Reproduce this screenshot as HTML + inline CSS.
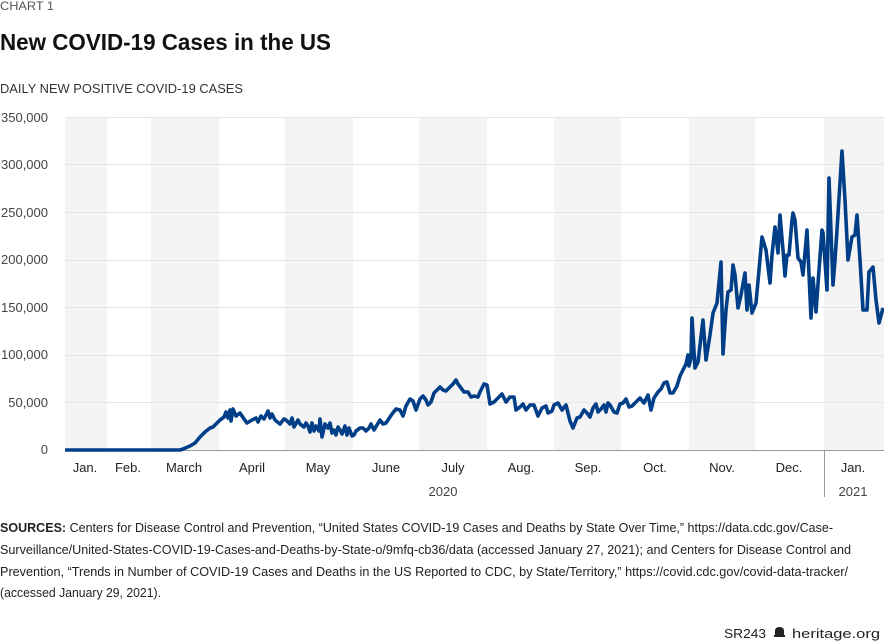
<!DOCTYPE html>
<html><head><meta charset="utf-8"><style>
html,body{margin:0;padding:0;background:#fff;width:884px;height:642px;overflow:hidden}
svg{display:block;font-family:"Liberation Sans",sans-serif}
</style></head><body>
<svg width="884" height="642" viewBox="0 0 884 642">
<text x="0" y="10" font-size="12" fill="#555" textLength="54" lengthAdjust="spacingAndGlyphs">CHART 1</text>
<text x="0" y="50" font-size="23" font-weight="bold" fill="#111" textLength="331" lengthAdjust="spacingAndGlyphs">New COVID-19 Cases in the US</text>
<text x="0" y="93" font-size="13" fill="#333" textLength="243" lengthAdjust="spacingAndGlyphs">DAILY NEW POSITIVE COVID-19 CASES</text>
<g fill="#f4f4f4">
<rect x="65" y="117" width="42" height="333"/>
<rect x="151" y="117" width="68" height="333"/>
<rect x="285" y="117" width="68" height="333"/>
<rect x="419" y="117" width="68" height="333"/>
<rect x="554" y="117" width="67" height="333"/>
<rect x="689" y="117" width="66" height="333"/>
<rect x="824" y="117" width="60" height="333"/>
</g>
<g stroke="#e6e6e6" stroke-width="1">
<line x1="65" x2="884" y1="117.5" y2="117.5"/>
<line x1="65" x2="884" y1="164.5" y2="164.5"/>
<line x1="65" x2="884" y1="212.5" y2="212.5"/>
<line x1="65" x2="884" y1="260.5" y2="260.5"/>
<line x1="65" x2="884" y1="307.5" y2="307.5"/>
<line x1="65" x2="884" y1="355.5" y2="355.5"/>
<line x1="65" x2="884" y1="402.5" y2="402.5"/>
</g>
<line x1="65" x2="884" y1="450.5" y2="450.5" stroke="#999"/>
<line x1="824.5" x2="824.5" y1="450" y2="497" stroke="#999"/>
<g font-size="13" fill="#444" text-anchor="end">
<text x="48" y="122">350,000</text>
<text x="48" y="169">300,000</text>
<text x="48" y="217">250,000</text>
<text x="48" y="264">200,000</text>
<text x="48" y="312">150,000</text>
<text x="48" y="359">100,000</text>
<text x="48" y="407">50,000</text>
<text x="48" y="454">0</text>
</g>
<g font-size="13" fill="#222" text-anchor="middle">
<text x="85" y="472">Jan.</text>
<text x="128" y="472">Feb.</text>
<text x="184" y="472">March</text>
<text x="252" y="472">April</text>
<text x="318" y="472">May</text>
<text x="386" y="472">June</text>
<text x="453" y="472">July</text>
<text x="521" y="472">Aug.</text>
<text x="588" y="472">Sep.</text>
<text x="655" y="472">Oct.</text>
<text x="722" y="472">Nov.</text>
<text x="789" y="472">Dec.</text>
<text x="853" y="472">Jan.</text>
<text x="443" y="496" fill="#444">2020</text>
<text x="853" y="496" fill="#444">2021</text>
</g>
<polyline fill="none" stroke="#003f87" stroke-width="3.6" stroke-linejoin="round" points="65,450 180,450 183,449 190,446 195,443 200,437 205,432 210,428 213,427 216,424 220,420 224,417 226,412 228,418 230,410 231,421 233,409 236,416 240,413 244,419 247,423 252,420 256,418 258,422 261,416 264,419 268,411 270,418 272,414 275,420 280,424 284,419 286,420 290,424 292,418 294,427 298,420 300,424 304,427 306,423 308,426 310,432 312,423 314,431 316,426 319,431 320,419 322,437 325,424 328,428 330,423 332,433 334,430 336,435 338,427 340,430 342,434 345,426 347,435 349,428 352,436 354,435 356,431 360,428 363,428 366,431 369,428 371,424 374,430 377,425 380,420 383,424 386,423 388,420 392,414 396,409 400,410 403,416 406,406 410,399 413,401 416,410 420,399 423,396 426,400 428,405 431,402 434,393 436,391 438,389 440,387 443,390 446,391 450,387 453,384 456,380 458,384 461,388 464,392 468,392 471,397 474,396 478,397 480,392 484,384 487,385 490,404 494,402 498,398 502,394 506,402 510,397 514,397 516,410 520,407 523,404 526,410 530,405 534,405 538,416 542,408 546,406 548,413 552,411 554,405 558,403 562,410 566,405 570,421 573,428 577,418 580,417 584,410 587,413 590,417 593,408 596,404 598,412 601,409 604,405 606,412 608,403 610,405 614,412 617,413 620,404 623,403 626,399 629,407 632,406 636,402 640,398 644,403 648,395 651,410 654,398 658,392 661,389 664,383 667,382 670,393 673,393 677,386 680,376 683,370 686,364 688,355 689,366 691,358 692,318 695,368 698,362 703,320 706,360 710,335 713,313 717,303 721,262 723,354 726,310 728,292 731,290 733,265 735,275 738,308 741,295 745,273 747,310 749,285 752,313 756,303 759,270 762,237 766,250 770,283 772,255 775,227 778,253 780,215 783,250 785,276 787,255 789,255 792,220 793,213 795,220 798,258 801,262 803,275 807,230 811,318 813,278 816,312 819,270 822,230 823,233 827,290 829,178 833,285 835,260 837,230 842,151 845,200 848,260 852,237 855,235 857,215 860,260 863,310 867,310 869,272 873,267 876,300 879,323 883,308"/>
<g font-size="13" fill="#222">
<text x="0" y="532" textLength="833" lengthAdjust="spacingAndGlyphs"><tspan font-weight="bold">SOURCES:</tspan> Centers for Disease Control and Prevention, “United States COVID-19 Cases and Deaths by State Over Time,” https://data.cdc.gov/Case-</text>
<text x="0" y="554" textLength="851" lengthAdjust="spacingAndGlyphs">Surveillance/United-States-COVID-19-Cases-and-Deaths-by-State-o/9mfq-cb36/data (accessed January 27, 2021); and Centers for Disease Control and</text>
<text x="0" y="576" textLength="848" lengthAdjust="spacingAndGlyphs">Prevention, “Trends in Number of COVID-19 Cases and Deaths in the US Reported to CDC, by State/Territory,” https://covid.cdc.gov/covid-data-tracker/</text>
<text x="0" y="597" textLength="161" lengthAdjust="spacingAndGlyphs">(accessed January 29, 2021).</text>
</g>
<g font-size="13" fill="#222">
<text x="724" y="638" textLength="42" lengthAdjust="spacingAndGlyphs">SR243</text>
<path d="M774 637 h11 v-2 h-1 v-4 q0 -4 -4.5 -4 q-4.5 0 -4.5 4 v4 h-1z" fill="#222"/>
<text x="792" y="638" textLength="88" lengthAdjust="spacingAndGlyphs">heritage.org</text>
</g>
</svg>
</body></html>
